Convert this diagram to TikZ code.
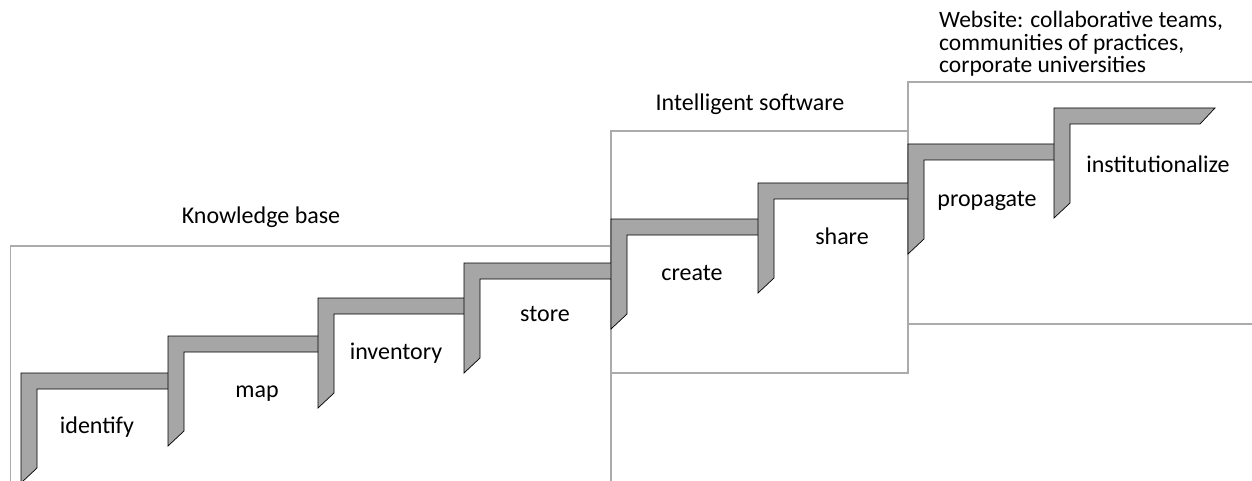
\documentclass[tikz,border=0pt]{standalone}
\usepackage{fontspec}
\setmainfont{Carlito}
\begin{document}
\begin{tikzpicture}[x=1pt,y=-1pt,
  frame/.style={draw=black!33, line width=1.3pt},
  stair/.style={draw=black, line width=0.7pt, fill=black!35, line join=miter},
  lbl/.style={font=\fontsize{24}{24}\selectfont, inner sep=0pt, anchor=base}]
\useasboundingbox (0,0) rectangle (1252,481);
\clip (0,0) rectangle (1252,481);
% frames
\draw[frame] (10.5,246) rectangle (611,500);
\draw[frame, fill=white] (611,131) rectangle (908,373);
\draw[frame, fill=white] (908,82) rectangle (1270,324);
% stairs
\foreach \x/\y/\n in {21/373/168, 168/336/318, 318/298/464, 464/263/611,
                      611/219/758, 758/183/908, 908/144/1054} {
  \draw[stair] (\x,\y) -- (\n+8,\y) -- (\n+8,\y+16) -- (\x+16,\y+16)
               -- (\x+16,\y+95) -- (\x,\y+110) -- cycle;
}
\draw[stair] (1054,108) -- (1215,108) -- (1200,124) -- (1070,124)
             -- (1070,203) -- (1054,218) -- cycle;
% step labels
\node[lbl] (identify) at (97,433) {identify};
\node[lbl] (map) at (257,397) {map};
\node[lbl] (inventory) at (396,359) {inventory};
\node[lbl] (store) at (545,321) {store};
\node[lbl] (create) at (692,280) {create};
\node[lbl] (share) at (842,244) {share};
\node[lbl] (propagate) at (987,207) {propagate};
\node[lbl] (institutionalize) at (1158,173) {institutionalize};
% titles
\node[lbl] (kb) at (261,223) {Knowledge base};
\node[lbl] (is) at (750,111) {Intelligent software};
\node[lbl, anchor=north west, align=left, font=\fontsize{23.5}{22.5}\selectfont] (web) at (939,11)
  {Website: collaborative teams,\\communities of practices,\\corporate universities};
\end{tikzpicture}
\end{document}
